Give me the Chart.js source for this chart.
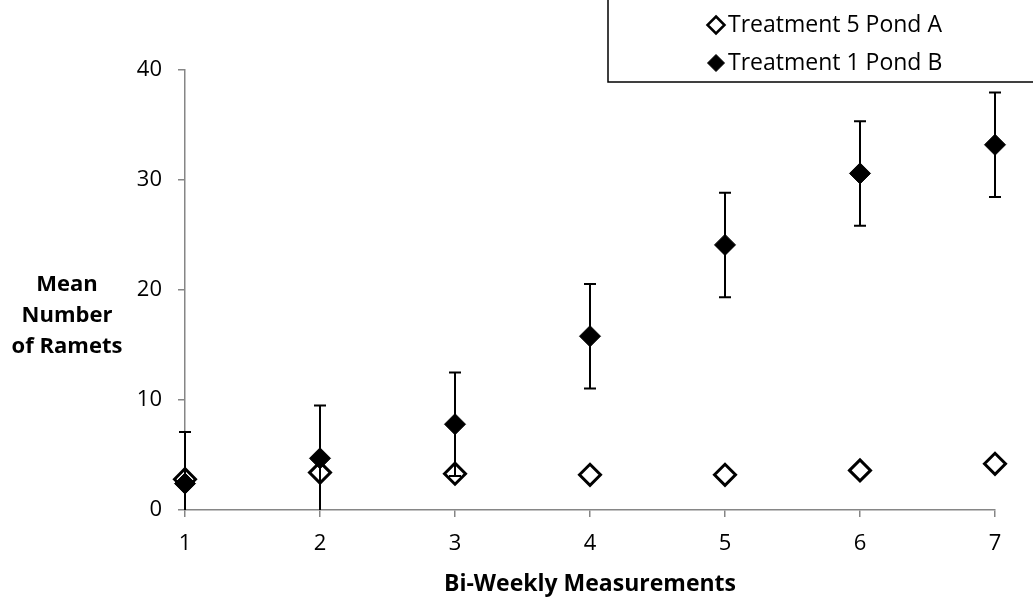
<!DOCTYPE html>
<html>
<head>
<meta charset="utf-8">
<script src="https://cdn.jsdelivr.net/npm/chart.js@4/dist/chart.umd.min.js"></script>
<style>
html,body{margin:0;padding:0;background:#fff;}
canvas{display:block;}
</style>
</head>
<body>
<canvas id="chart" width="1033" height="601"></canvas>
<script>
// data
const weeks = [1, 2, 3, 4, 5, 6, 7];
const pondA = [2.8, 3.4, 3.3, 3.2, 3.2, 3.6, 4.2];
const pondAErr = [0.35, 0.35, 0.35, 0.35, 0.35, 0.35, 0.35];
const pondB = [2.4, 4.7, 7.8, 15.8, 24.1, 30.6, 33.2];
const pondBErr = [4.7, 4.8, 4.7, 4.75, 4.75, 4.75, 4.75];
const yTicks = [0, 10, 20, 30, 40];
const labelA = "Treatment 5 Pond A";
const labelB = "Treatment 1 Pond B";
const yTitle = ["Mean", "Number", "of Ramets"];
const xTitle = "Bi-Weekly Measurements";

const FONT = "'Open Sans', sans-serif";
const axisGray = "#868686";

// error bars, drawn under each dataset's markers
const errorBars = {
  id: "errorBars",
  beforeDatasetDraw(chart, args){
    const ds = chart.data.datasets[args.index];
    if(!ds.errors) return;
    const {ctx, chartArea:a, scales:{y}} = chart;
    ctx.save();
    ctx.beginPath();
    ctx.rect(0, a.top - 20, chart.width, a.bottom - a.top + 20);
    ctx.clip();
    ctx.strokeStyle = "#000";
    ctx.lineWidth = 2;
    args.meta.data.forEach((pt, i) => {
      const v = ds.data[i].y, e = ds.errors[i];
      const top = y.getPixelForValue(v + e), bot = y.getPixelForValue(v - e);
      ctx.beginPath();
      ctx.moveTo(pt.x, top); ctx.lineTo(pt.x, bot);
      ctx.moveTo(pt.x - 6, top); ctx.lineTo(pt.x + 6, top);
      ctx.moveTo(pt.x - 6, bot); ctx.lineTo(pt.x + 6, bot);
      ctx.stroke();
    });
    ctx.restore();
  }
};

function diamond(ctx, x, y, r, filled){
  ctx.beginPath();
  ctx.moveTo(x, y - r); ctx.lineTo(x + r, y); ctx.lineTo(x, y + r); ctx.lineTo(x - r, y);
  ctx.closePath();
  ctx.fillStyle = filled ? "#000" : "#fff";
  ctx.fill();
  ctx.lineWidth = filled ? 1 : 2.5;
  ctx.strokeStyle = "#000";
  ctx.stroke();
}

// horizontal y title + boxed legend
const decor = {
  id: "decor",
  afterDraw(chart){
    const ctx = chart.ctx;
    ctx.save();
    ctx.fillStyle = "#000";
    ctx.font = "bold 22px " + FONT;
    ctx.textAlign = "center";
    ctx.textBaseline = "middle";
    yTitle.forEach((t, i) => ctx.fillText(t, 67, 285 + i * 31));

    ctx.strokeStyle = "#000";
    ctx.lineWidth = 1.5;
    ctx.strokeRect(608, -2, 440, 84);
    ctx.font = "23px " + FONT;
    ctx.textAlign = "left";
    [[labelA, false, 25], [labelB, true, 63]].forEach(([t, filled, ly]) => {
      diamond(ctx, 716, ly, 8.5, filled);
      ctx.fillStyle = "#000";
      ctx.fillText(t, 728, ly);
    });
    ctx.restore();
  }
};

const pts = arr => arr.map((v, i) => ({x: weeks[i], y: v}));

new Chart(document.getElementById("chart"), {
  type: "scatter",
  data: {
    datasets: [
      {
        label: labelA, data: pts(pondA), errors: pondAErr, order: 2, clip: false,
        pointStyle: "rectRot", pointRadius: 10.5, pointBackgroundColor: "#fff",
        pointBorderColor: "#000", pointBorderWidth: 3
      },
      {
        label: labelB, data: pts(pondB), errors: pondBErr, order: 1, clip: false,
        pointStyle: "rectRot", pointRadius: 10.5, pointBackgroundColor: "#000",
        pointBorderColor: "#000", pointBorderWidth: 1
      }
    ]
  },
  options: {
    responsive: false,
    animation: false,
    devicePixelRatio: 1,
    layout: { padding: { left: 0, right: 38, top: 70, bottom: 0 } },
    plugins: { legend: { display: false }, tooltip: { enabled: false } },
    scales: {
      x: {
        type: "linear", min: 1, max: 7,
        afterFit: s => { s.height = 91; },
        afterBuildTicks: s => { s.ticks = weeks.map(v => ({value: v})); },
        grid: { drawOnChartArea: false, drawTicks: true, tickLength: 7, color: axisGray, lineWidth: 1.5 },
        border: { color: axisGray, width: 1.5 },
        ticks: { color: "#000", font: { family: FONT, size: 22 }, padding: 14 },
        title: { display: true, text: xTitle, color: "#000",
          font: { family: FONT, size: 23, weight: "bold" }, padding: { top: 0, bottom: 3 } }
      },
      y: {
        type: "linear", min: 0, max: 40,
        afterFit: s => { s.width = 185; },
        afterBuildTicks: s => { s.ticks = yTicks.map(v => ({value: v})); },
        grid: { drawOnChartArea: false, drawTicks: true, tickLength: 7, color: axisGray, lineWidth: 1.5 },
        border: { color: axisGray, width: 1.5 },
        ticks: { color: "#000", font: { family: FONT, size: 22 }, padding: 16 }
      }
    }
  },
  plugins: [errorBars, decor]
});
</script>
</body>
</html>
